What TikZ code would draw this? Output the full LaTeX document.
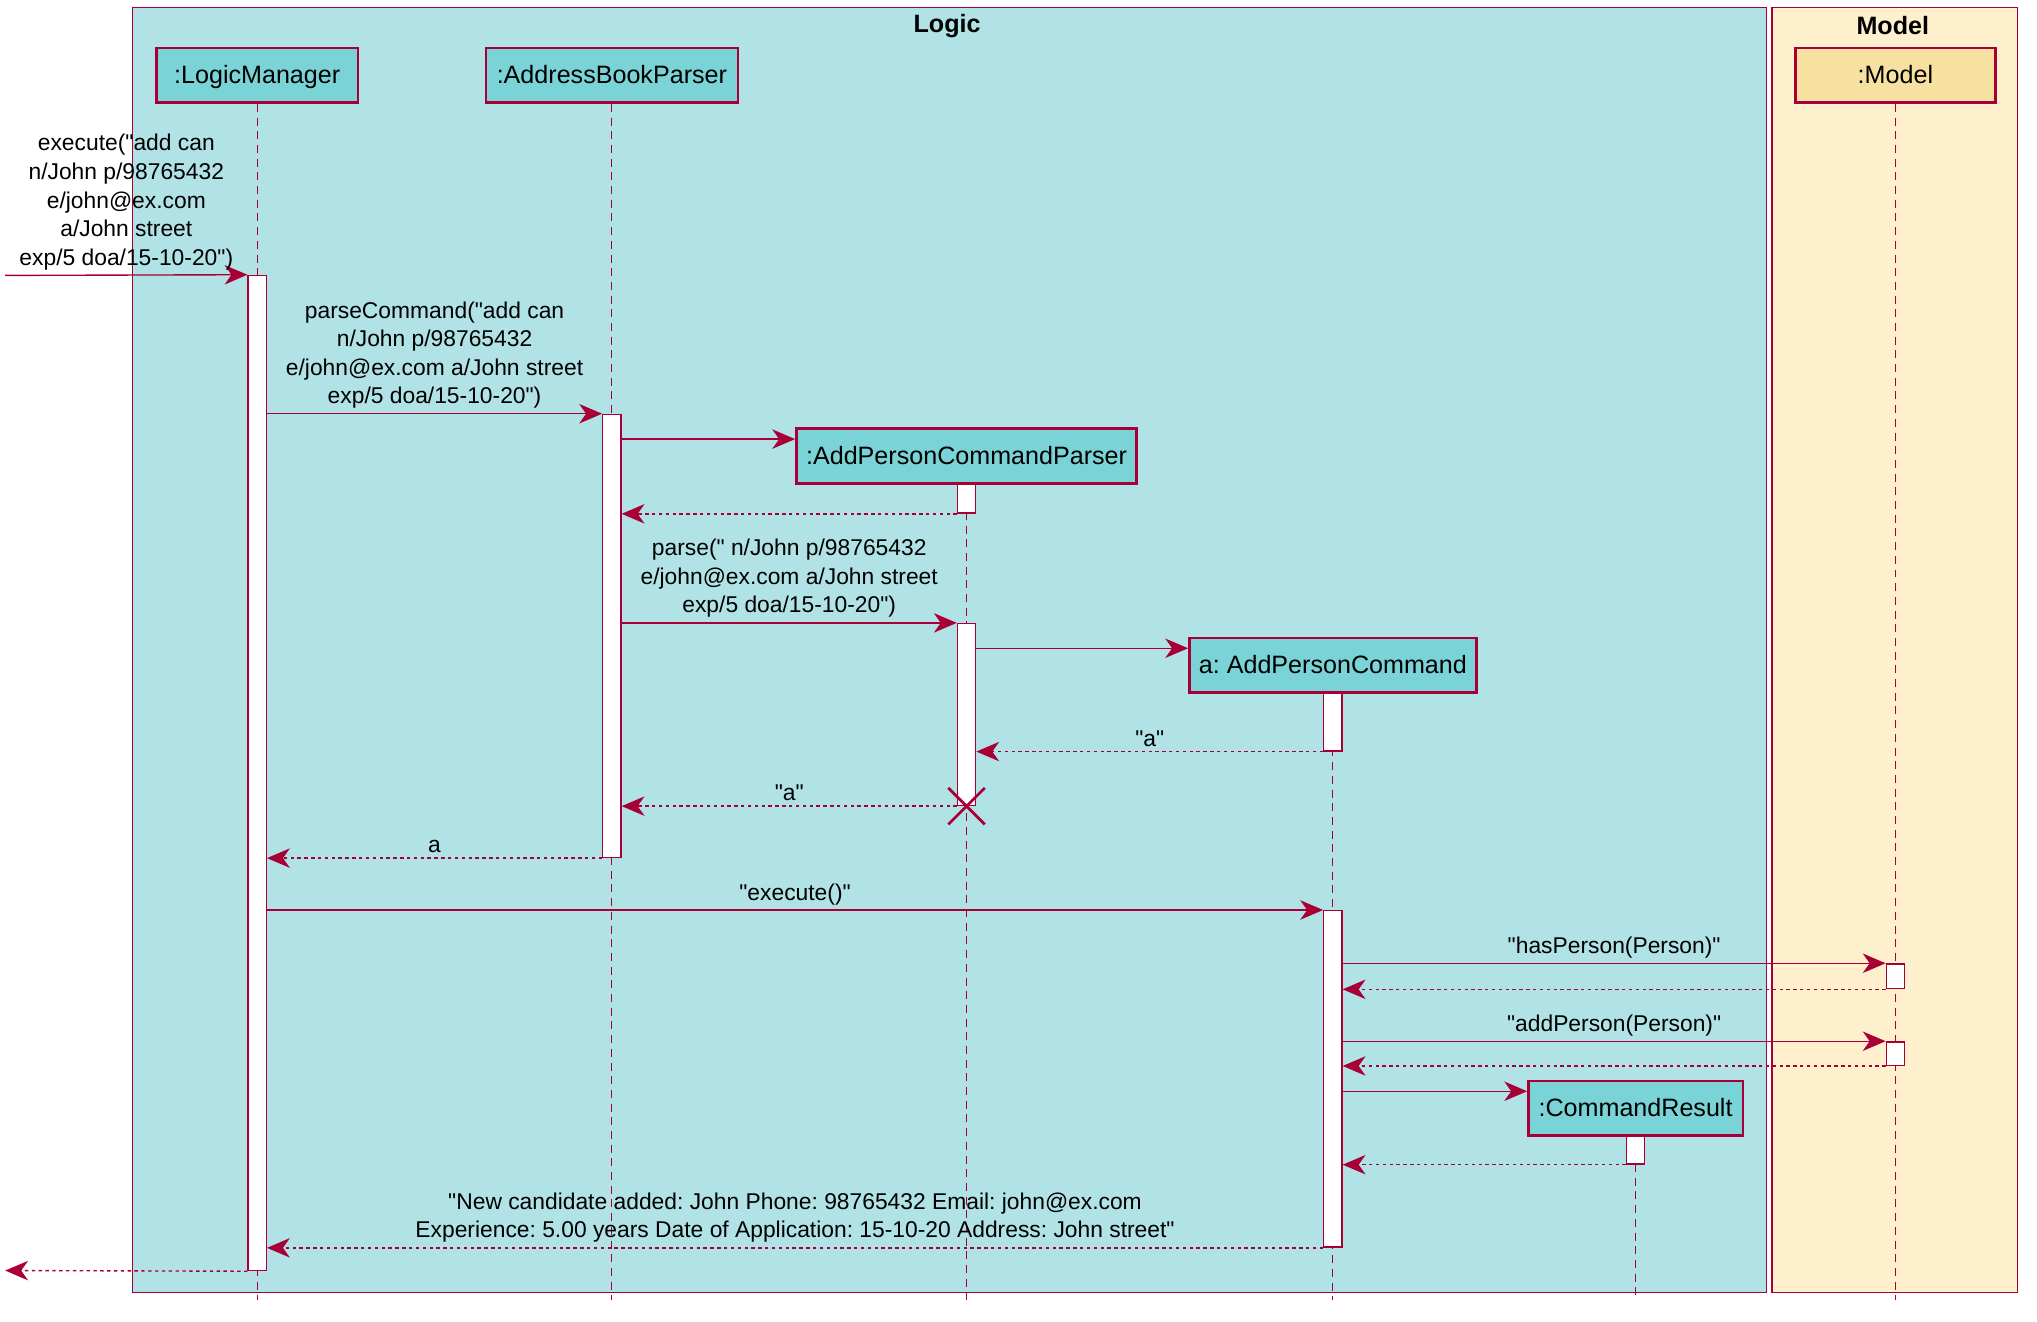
\documentclass[tikz,border=0pt]{standalone}
\usepackage{fontspec}
\setmainfont{Liberation Sans}[Ligatures=TeXOff]
\usetikzlibrary{arrows.meta, fit, shapes.misc}

\definecolor{umlred}{HTML}{A80036}
\definecolor{logicbg}{HTML}{B0E2E6}
\definecolor{logicbox}{HTML}{7AD3D6}
\definecolor{modelbg}{HTML}{FFF0CD}
\definecolor{modelbox}{HTML}{F7E1A1}

\begin{document}
\frenchspacing
\begin{tikzpicture}[x=0.02cm, y=-0.02cm, semithick,
    >={Stealth[length=10pt, width=8.5pt, inset=3pt]},
    frame/.style={draw=umlred},
    title/.style={font=\fontsize{11}{13}\selectfont\bfseries},
    part/.style={draw=umlred, line width=1.1pt, fill=logicbox, minimum height=0.84cm,
        inner sep=0pt, text height=0.72em, text depth=0pt, font=\fontsize{11}{13}\selectfont},
    life/.style={draw=umlred, thin, dash pattern=on 3.5pt off 2.5pt},
    act/.style={draw=umlred, fill=white, minimum width=0.28cm, inner sep=0pt},
    msg/.style={text=black, font=\fontsize{10}{12.5}\selectfont, align=center, above, inner sep=2pt},
    call/.style={->, umlred},
    ret/.style={->, umlred, dash pattern=on 1.5pt off 1.5pt}]
    \useasboundingbox (0,0) rectangle (1568,1017);

    % boxes of the two layers
    \draw[frame, fill=logicbg] (102,6) rectangle (1360,995);
    \draw[frame, fill=modelbg] (1364,6) rectangle (1553,995);
    \node[title] (logicT) at (729,20) {Logic};
    \node[title] (modelT) at (1457,20) {Model};

    % participants
    \node[part, minimum width=3.1cm] (lm) at (198,58) {:LogicManager};
    \node[part, minimum width=3.88cm] (abp) at (471,58) {:AddressBookParser};
    \node[part, minimum width=3.08cm, fill=modelbox] (model) at (1459,58) {:Model};
    \node[part, minimum width=5.24cm] (apcp) at (744,351) {:AddPersonCommandParser};
    \node[part, minimum width=4.42cm] (apc) at (1026,512) {a: AddPersonCommand};
    \node[part, minimum width=3.3cm] (cr) at (1259,853) {:CommandResult};

    \coordinate (bottom) at (0,1001);
    \foreach \p in {lm, abp, model, apcp, apc, cr}
        \draw[life] (\p.south) -- (\p.south |- bottom);

    % activations
    \node[fit={(198,212) (198,978)}, act] (lmA) {};
    \node[fit={(471,319) (471,660)}, act] (abpA) {};
    \node[fit={(744,373) (744,395)}, act] (apcpA1) {};
    \node[fit={(744,480) (744,620)}, act] (apcpA2) {};
    \node[fit={(1026,534) (1026,578)}, act] (apcA1) {};
    \node[fit={(1026,701) (1026,960)}, act] (apcA2) {};
    \node[fit={(1459,742) (1459,761)}, act] (modA1) {};
    \node[fit={(1459,802) (1459,820)}, act] (modA2) {};
    \node[fit={(1259,875) (1259,896)}, act] (crA) {};

    \coordinate (ext) at (4,212);
    \coordinate (extR) at (4,978);
    \coordinate (c1) at (0,338);
    \coordinate (c2) at (0,499);
    \coordinate (c3) at (0,840);

    \path[call]
    (ext) edge node[msg] {execute("add can\\n/John p/98765432\\e/john@ex.com\\a/John street\\exp/5 doa/15-10-20")} (lmA.north west)
    (lmA.east |- abpA.north) edge node[msg] {parseCommand("add can\\n/John p/98765432\\e/john@ex.com a/John street\\exp/5 doa/15-10-20")} (abpA.north west)
    (abpA.east |- c1) edge (apcp.west |- c1)
    (abpA.east |- apcpA2.north) edge node[msg] {parse(" n/John p/98765432\\e/john@ex.com a/John street\\exp/5 doa/15-10-20")} (apcpA2.north west)
    (apcpA2.east |- c2) edge (apc.west |- c2)
    (lmA.east |- apcA2.north) edge node[msg] {"execute()"} (apcA2.north west)
    (apcA2.east |- modA1.north) edge node[msg] {"hasPerson(Person)"} (modA1.north west)
    (apcA2.east |- modA2.north) edge node[msg] {"addPerson(Person)"} (modA2.north west)
    (apcA2.east |- c3) edge (cr.west |- c3);

    \path[ret]
    (apcpA1.south west) edge (abpA.east |- apcpA1.south)
    (apcA1.south west) edge node[msg] {"a"} (apcpA2.east |- apcA1.south)
    (apcpA2.south west) edge node[msg] {"a"} (abpA.east |- apcpA2.south)
    (abpA.south west) edge node[msg] {a} (lmA.east |- abpA.south)
    (modA1.south west) edge (apcA2.east |- modA1.south)
    (modA2.south west) edge (apcA2.east |- modA2.south)
    (crA.south west) edge (apcA2.east |- crA.south)
    (apcA2.south west) edge node[msg] {"New candidate added: John Phone: 98765432 Email: john@ex.com\\Experience: 5.00 years Date of Application: 15-10-20 Address: John street"} (lmA.east |- apcA2.south)
    (lmA.south west) edge (extR);

    % end of the parser
    \node[draw=umlred, cross out, line width=1.2pt, minimum size=0.52cm] (kill) at (apcpA2.south) {};
\end{tikzpicture}
\end{document}
